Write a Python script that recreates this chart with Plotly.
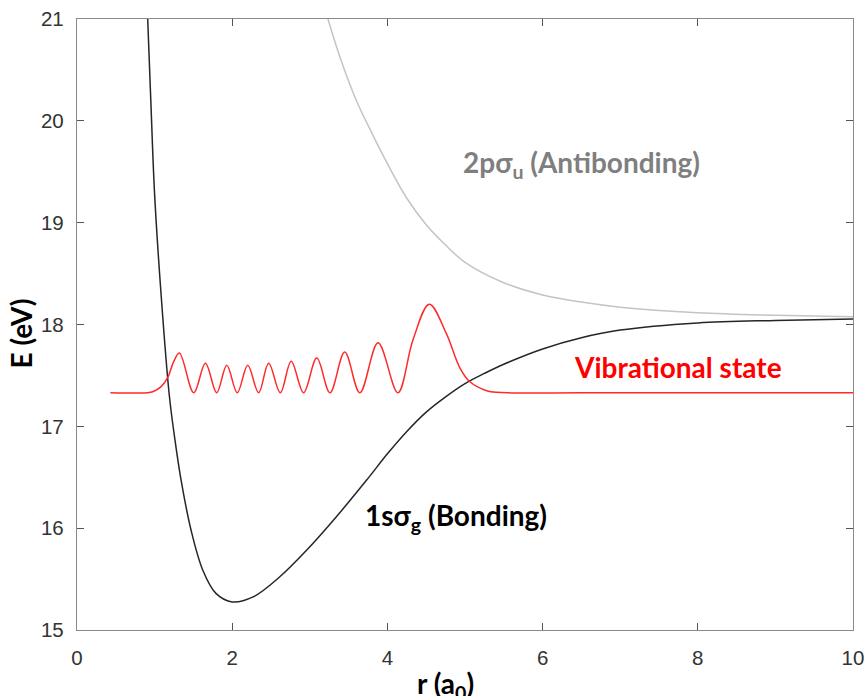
import plotly.graph_objects as go

# Internuclear distance r (a0) and energy E (eV) samples for each curve
bond_r = [0.911, 0.955, 1.0, 1.085, 1.19, 1.26, 1.342, 1.47, 1.62, 1.79, 2.0,
          2.27, 2.61, 2.955, 3.34, 3.73, 4.0, 4.25, 4.5, 4.75, 5.0, 5.25,
          5.5, 6.0, 6.5, 7.0, 8.0, 9.0, 10.0]
bond_E = [21.0, 20.12, 19.28, 18.28, 17.30, 16.88, 16.47, 15.98, 15.59, 15.36, 15.276,
          15.325, 15.52, 15.78, 16.11, 16.47, 16.73, 16.95, 17.14, 17.29, 17.42, 17.52,
          17.61, 17.76, 17.87, 17.945, 18.015, 18.04, 18.055]

anti_r = [3.234, 3.4, 3.6, 3.8, 4.0, 4.25, 4.5, 4.75, 5.0, 5.5, 6.0,
          6.5, 7.0, 8.0, 9.0, 10.0]
anti_E = [21.0, 20.6, 20.2, 19.88, 19.58, 19.24, 18.98, 18.78, 18.61, 18.41, 18.29,
          18.22, 18.17, 18.115, 18.09, 18.075]

vib_r = [0.43, 0.90, 0.976, 1.084, 1.17, 1.243, 1.32, 1.505, 1.655, 1.80, 1.93,
         2.065, 2.20, 2.34, 2.47, 2.62, 2.76, 2.92, 3.09, 3.26, 3.45, 3.645,
         3.88, 4.135, 4.33, 4.54, 4.76, 4.93, 5.06, 5.28, 5.54, 6.5, 8.0, 10.0]
vib_E = [17.33, 17.33, 17.34, 17.39, 17.48, 17.63, 17.72, 17.33, 17.62, 17.33, 17.60,
         17.33, 17.60, 17.33, 17.62, 17.33, 17.64, 17.33, 17.67, 17.33, 17.73, 17.33,
         17.82, 17.33, 17.85, 18.20, 17.91, 17.58, 17.44, 17.35, 17.33, 17.33, 17.33, 17.33]

x_ticks = [0, 2, 4, 6, 8, 10]
y_ticks = [15, 16, 17, 18, 19, 20, 21]

LABEL_FONT = "Lato"
TICK_FONT = "Liberation Sans"

fig = go.Figure()

fig.add_trace(go.Scatter(x=anti_r, y=anti_E, mode="lines",
                         line=dict(color="#c4c4c4", width=1.5, shape="spline"),
                         hoverinfo="skip"))
fig.add_trace(go.Scatter(x=bond_r, y=bond_E, mode="lines",
                         line=dict(color="#262626", width=1.5, shape="spline"),
                         hoverinfo="skip"))
fig.add_trace(go.Scatter(x=vib_r, y=vib_E, mode="lines",
                         line=dict(color="#ff2a2a", width=1.5, shape="spline"),
                         hoverinfo="skip"))

axis_common = dict(
    showgrid=False, zeroline=False, showline=True, mirror="ticks",
    linecolor="#8a8a8a", linewidth=1.3, automargin=False,
    ticks="inside", ticklen=7, tickwidth=1.2, tickcolor="#555555",
    tickfont=dict(family=TICK_FONT, size=20.5, color="#333333"),
)

fig.update_xaxes(range=[0, 10], tickvals=x_ticks, ticklabelstandoff=9, **axis_common)
fig.update_yaxes(range=[15, 21], tickvals=y_ticks, ticklabelstandoff=8, **axis_common)

labels = [
    dict(x=4.946, y=19.58, text="2pσ<sub>u</sub> (Antibonding)", color="#7f7f7f"),
    dict(x=6.38, y=17.58, text="Vibrational state", color="#ff0000"),
    dict(x=3.69, y=16.11, text="1sσ<sub>g</sub> (Bonding)", color="#000000"),
]
for lab in labels:
    fig.add_annotation(x=lab["x"], y=lab["y"], xref="x", yref="y",
                       text=lab["text"], showarrow=False,
                       xanchor="left", yanchor="middle",
                       font=dict(family=LABEL_FONT, size=28, color=lab["color"],
                                 weight="bold"))

# Axis titles
fig.add_annotation(x=0.4755, y=0, xref="paper", yref="paper",
                   text="r (a<sub>0</sub>)", showarrow=False,
                   xanchor="center", yanchor="middle", yshift=-55,
                   font=dict(family=LABEL_FONT, size=28, color="#000000", weight="bold"))
fig.add_annotation(x=0, y=0.4845, xref="paper", yref="paper",
                   text="E (eV)", showarrow=False, textangle=-90,
                   xanchor="center", yanchor="middle", xshift=-56.5,
                   font=dict(family=LABEL_FONT, size=28, color="#000000", weight="bold"))

fig.update_layout(
    width=868, height=696,
    margin=dict(l=77, r=15, t=19, b=66),
    paper_bgcolor="white", plot_bgcolor="white",
    showlegend=False,
)

fig.write_html("out.html")
